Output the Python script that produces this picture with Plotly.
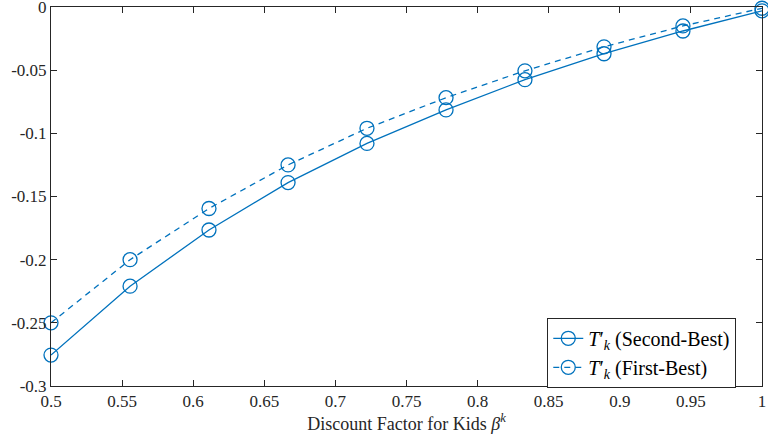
import plotly.graph_objects as go

beta = [0.5, 0.5556, 0.6111, 0.6667, 0.7222, 0.7778, 0.8333, 0.8889, 0.9444, 1.0]
second_best = [-0.2755, -0.221, -0.1765, -0.139, -0.108, -0.0815, -0.0575, -0.0370, -0.0190, -0.0030]
first_best = [-0.250, -0.200, -0.1595, -0.125, -0.096, -0.0718, -0.0505, -0.0315, -0.0150, -0.0010]

x_ticks = [0.5, 0.55, 0.6, 0.65, 0.7, 0.75, 0.8, 0.85, 0.9, 0.95, 1.0]
x_labels = ["0.5", "0.55", "0.6", "0.65", "0.7", "0.75", "0.8", "0.85", "0.9", "0.95", "1"]
y_ticks = [0, -0.05, -0.1, -0.15, -0.2, -0.25, -0.3]
y_labels = ["0", "-0.05", "-0.1", "-0.15", "-0.2", "-0.25", "-0.3"]

color = "#0072BD"
font = "Liberation Serif"

fig = go.Figure()
fig.add_trace(go.Scatter(
    x=beta, y=second_best, mode="lines+markers",
    name="<i>T</i>′<sub><i>k</i></sub> (Second-Best)",
    line=dict(color=color, width=1.3),
    marker=dict(symbol="circle-open", size=14, color=color, line=dict(width=1.3)),
    cliponaxis=False,
))
fig.add_trace(go.Scatter(
    x=beta, y=first_best, mode="lines+markers",
    name="<i>T</i>′<sub><i>k</i></sub> (First-Best)",
    line=dict(color=color, width=1.3, dash="6px,5px"),
    marker=dict(symbol="circle-open", size=14, color=color, line=dict(width=1.3)),
    cliponaxis=False,
))

axis_common = dict(
    showgrid=False, zeroline=False, showline=True, linecolor="#262626", linewidth=1,
    mirror="ticks", ticks="inside", ticklen=6, tickcolor="#262626",
    tickfont=dict(family=font, size=17, color="#262626"),
    ticklabeloverflow="allow", automargin=False,
)

fig.update_layout(
    width=768, height=440,
    margin=dict(l=51, r=6, t=7, b=54),
    paper_bgcolor="white", plot_bgcolor="white",
    font=dict(family=font, color="#262626"),
    xaxis=dict(range=[0.5, 1.0], tickvals=x_ticks, ticktext=x_labels,
               title=dict(text="Discount Factor for Kids <i>β</i><sup><i>k</i></sup>",
                          font=dict(family=font, size=18, color="#262626"), standoff=4),
               **axis_common),
    yaxis=dict(range=[-0.3, 0.0], tickvals=y_ticks, ticktext=y_labels,
               **axis_common),
    showlegend=True,
    legend=dict(x=0.698, y=0.18, xanchor="left", yanchor="top",
                bgcolor="white", bordercolor="#262626", borderwidth=1,
                font=dict(family=font, size=20, color="#000000"),
                tracegroupgap=0, itemwidth=30),
)

fig.write_html("out.html")
